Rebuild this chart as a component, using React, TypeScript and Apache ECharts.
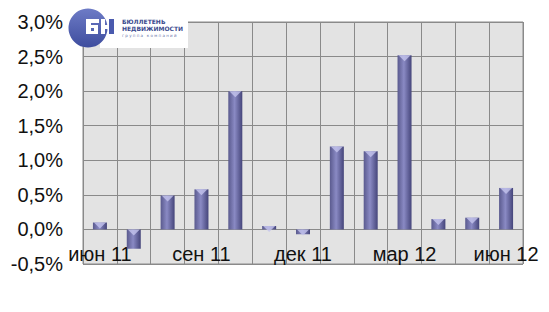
import React, { useEffect, useRef } from "react";
import * as echarts from "echarts";

const categories = ["июн 11", "июл 11", "авг 11", "сен 11", "окт 11", "ноя 11", "дек 11", "янв 12", "фев 12", "мар 12", "апр 12", "май 12", "июн 12"];
const values = [0.1, -0.28, 0.49, 0.58, 2.0, 0.05, -0.07, 1.2, 1.13, 2.52, 0.15, 0.17, 0.6];
const yTicks = { min: -0.5, max: 3.0, interval: 0.5 };

export default function App() {
  const ref = useRef<HTMLDivElement>(null);
  useEffect(() => {
    const chart = echarts.init(ref.current!, null, { renderer: "svg" });
    const capValues = values.map((v) => Math.max(v, 0));
    const blue = "#4a5aae";
    const white = "#ffffff";
    const r = (x: number, y: number, w: number, h: number, fill: string) => ({
      type: "rect",
      shape: { x, y, width: w, height: h },
      style: { fill },
      z: 12,
    });
    chart.setOption({
      animation: false,
      backgroundColor: "#ffffff",
      grid: {
        left: 83,
        right: 26,
        top: 22,
        bottom: 48,
        show: true,
        backgroundColor: "#e3e3e3",
        borderColor: "#8a8a8a",
        borderWidth: 1,
      },
      xAxis: {
        type: "category",
        data: categories,
        boundaryGap: true,
        position: "bottom",
        axisLine: { show: false },
        axisTick: { show: false },
        splitLine: { show: true, interval: 0, lineStyle: { color: "#8a8a8a", width: 1 } },
        axisLabel: {
          interval: 2,
          verticalAlign: "bottom",
          margin: 0,
          fontFamily: "Liberation Sans, Arial, sans-serif",
          fontSize: 20,
          color: "#111",
        },
      },
      yAxis: {
        type: "value",
        min: yTicks.min,
        max: yTicks.max,
        interval: yTicks.interval,
        axisLine: { show: false },
        axisTick: { show: false },
        splitLine: { show: true, lineStyle: { color: "#8a8a8a", width: 1 } },
        axisLabel: {
          margin: 20,
          fontFamily: "Liberation Sans, Arial, sans-serif",
          fontSize: 20,
          color: "#111",
          formatter: (v: number) => v.toFixed(1).replace(".", ",") + "%",
        },
      },
      series: [
        {
          type: "bar",
          data: values,
          barWidth: 14,
          itemStyle: {
            color: new echarts.graphic.LinearGradient(0, 0, 1, 0, [
              { offset: 0, color: "#5a5a8e" },
              { offset: 0.45, color: "#8a8ac4" },
              { offset: 1, color: "#45457a" },
            ]),
          },
        },
        {
          type: "scatter",
          data: capValues,
          symbol: "triangle",
          symbolRotate: 180,
          symbolSize: [12, 6],
          symbolOffset: [0, 3],
          itemStyle: { color: "#c4c4ee" },
          z: 5,
        },
      ],
      graphic: [
        { type: "rect", shape: { x: 100, y: 13, width: 88, height: 35 }, style: { fill: "#ffffff" }, z: 10 },
        {
          type: "circle",
          shape: { cx: 88, cy: 28, r: 19.5 },
          style: {
            fill: new echarts.graphic.LinearGradient(0, 0, 0, 1, [
              { offset: 0, color: "#6d7bc6" },
              { offset: 1, color: "#3e4d9e" },
            ]),
          },
          z: 11,
        },
        // Б
        r(86, 19, 5, 15, white),
        r(86, 19, 13, 4, white),
        r(86, 25, 12, 9, white),
        r(91, 28, 3, 3, "#5565b2"),
        // Н
        r(101, 19, 4, 15, white),
        r(101, 25, 8, 4, white),
        r(109, 19, 5, 15, blue),
        {
          type: "text",
          x: 122,
          y: 18,
          style: { text: "БЮЛЛЕТЕНЬ", fill: "#3a4a8e", font: "bold 6px DejaVu Sans, sans-serif" },
          z: 12,
        },
        {
          type: "text",
          x: 122,
          y: 25,
          style: { text: "НЕДВИЖИМОСТИ", fill: "#3a4a8e", font: "bold 6px DejaVu Sans, sans-serif" },
          z: 12,
        },
        {
          type: "text",
          x: 122,
          y: 33,
          style: { text: "г р у п п а   к о м п а н и й", fill: "#6a74aa", font: "4px DejaVu Sans, sans-serif" },
          z: 12,
        },
      ],
    });
    return () => chart.dispose();
  }, []);
  return <div ref={ref} style={{ position: "fixed", left: 0, top: 0, width: 549, height: 312 }} />;
}
